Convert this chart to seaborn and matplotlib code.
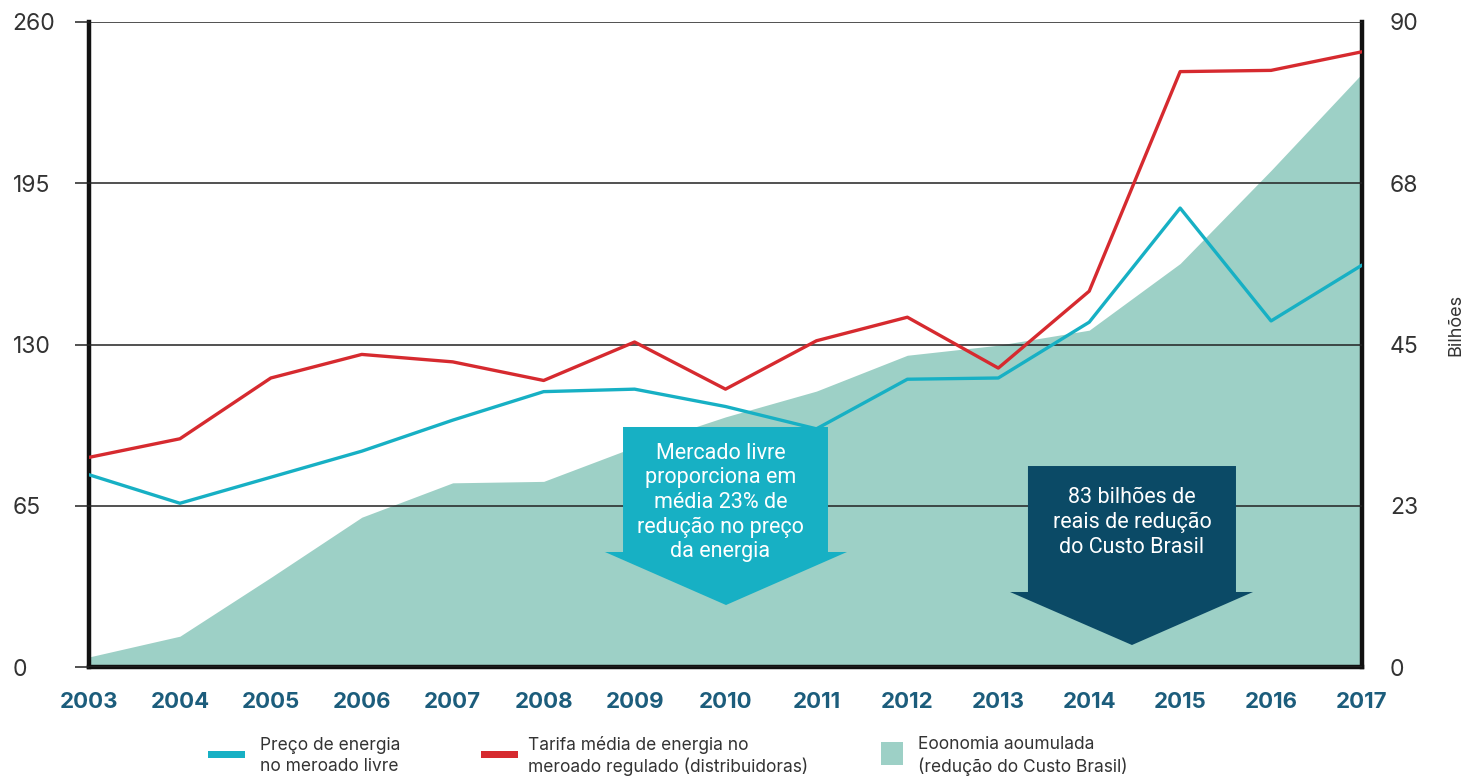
import matplotlib
matplotlib.use("Agg")
import matplotlib.pyplot as plt
import seaborn as sns
import pandas as pd
from matplotlib.patches import Polygon, Rectangle

years = list(range(2003, 2018))
preco_livre = [77.5, 66, 76.5, 87, 99.5, 111, 112, 105, 96, 116, 116.5, 139, 185, 139.5, 162]
tarifa_regulada = [84.5, 92, 116.5, 126, 123, 115.5, 131, 112, 131.5, 141, 120.5, 151.5, 240, 240.5, 248]
economia_acumulada = [1.4, 4.3, 12.5, 20.9, 25.7, 25.9, 30.7, 34.9, 38.5, 43.5, 44.9, 47, 56.3, 69.3, 82.8]

left_ticks = [0, 65, 130, 195, 260]
right_ticks = [0, 22.5, 45, 67.5, 90]
right_labels = ["0", "23", "45", "68", "90"]

label_livre = "Preço de energia\nno meroado livre"
label_reg = "Tarifa média de energia no\nmeroado regulado (distribuidoras)"
label_eco = "Eoonomia aoumulada\n(redução do Custo Brasil)"
arrow1_text = "Mercado livre\nproporciona em\nmédia 23% de\nredução no preço\nda energia"
arrow2_text = "83 bilhões de\nreais de redução\ndo Custo Brasil"

c_blue = "#17b0c4"
c_red = "#d62a2f"
c_area = "#9dd0c6"
c_dark = "#0b4a66"
c_xtick = "#1c5d7c"

sns.set_style("white")
plt.rcParams['font.family'] = ['Inter', 'DejaVu Sans']

df = pd.DataFrame({"year": years, "livre": preco_livre, "reg": tarifa_regulada, "eco": economia_acumulada})

fig = plt.figure(figsize=(14.69, 7.79), dpi=100)
ax = fig.add_axes([89/1469, 1 - 667/779, 1273/1469, 645/779])
ax2 = ax.twinx()
ax.set_zorder(ax2.get_zorder() + 1)
ax.patch.set_visible(False)

# area on right axis
ax2.fill_between(df["year"], 0, df["eco"], color=c_area, linewidth=0)
ax2.set_ylim(0, 90)
ax2.set_yticks(right_ticks)
ax2.set_yticklabels(right_labels)
ax2.tick_params(axis='y', length=0, pad=20, labelsize=16.5, labelcolor="#333333")
for lab in ax2.get_yticklabels():
    lab.set_horizontalalignment('left')
ax2.set_ylabel("Bilhões", fontsize=13, color="#333333")
ax2.yaxis.set_label_coords(1.067, 0.53)

# lines
sns.lineplot(data=df, x="year", y="reg", ax=ax, color=c_red, linewidth=2.4, zorder=4)
sns.lineplot(data=df, x="year", y="livre", ax=ax, color=c_blue, linewidth=2.4, zorder=4)

ax.set_xlim(2003, 2017)
ax.set_ylim(0, 260)
ax.set_yticks(left_ticks)
ax.set_xticks(years)
ax.set_xlabel("")
ax.set_ylabel("")
ax.yaxis.grid(True, color="#222222", linewidth=1.1)
ax.set_axisbelow(False)
for gl in ax.get_ygridlines():
    gl.set_zorder(2)
ax.tick_params(axis='y', length=10, width=1.1, color="#222222", pad=45, labelsize=16.5, labelcolor="#333333")
for lab in ax.get_yticklabels():
    lab.set_horizontalalignment('left')
ax.tick_params(axis='x', length=0, pad=18, labelsize=16, labelcolor=c_xtick)
for lab in ax.get_xticklabels():
    lab.set_fontweight('bold')

for a in (ax, ax2):
    for s in ("left", "right", "bottom"):
        a.spines[s].set_color("#111111")
        a.spines[s].set_linewidth(3.2)
    a.spines["top"].set_visible(False)
ax2.spines["left"].set_visible(False)
ax2.spines["bottom"].set_visible(False)
ax.spines["right"].set_visible(False)

# arrows (axes fraction)
def down_arrow(bl, br, top, hy, hl, hr, tipx, tipy, color):
    pts = [(bl, top), (br, top), (br, hy), (hr, hy), (tipx, tipy), (hl, hy), (bl, hy)]
    ax.add_patch(Polygon(pts, closed=True, transform=ax.transAxes, facecolor=color,
                         edgecolor='none', zorder=6))

down_arrow(0.4195, 0.5805, 0.3721, 0.1783, 0.4053, 0.5954, 0.5004, 0.0961, c_blue)
down_arrow(0.7376, 0.9010, 0.3116, 0.1163, 0.7235, 0.9144, 0.8193, 0.0341, c_dark)

ax.text(0.4960, 0.255, arrow1_text, transform=ax.transAxes, ha='center', va='center',
        color='white', fontsize=15.5, linespacing=1.22, zorder=7,
        family=['Roboto', 'DejaVu Sans'])
ax.text(0.8193, 0.224, arrow2_text, transform=ax.transAxes, ha='center', va='center',
        color='white', fontsize=15.5, linespacing=1.22, zorder=7,
        family=['Roboto', 'DejaVu Sans'])

# legend (manual, figure pixel coords)
W, H = 1469, 779
def fx(px):
    return px / W
def fy(py):
    return 1 - py / H

fig.add_artist(Rectangle((fx(208), fy(758)), 37 / W, 7 / H, transform=fig.transFigure,
                         facecolor=c_blue, edgecolor='none'))
fig.add_artist(Rectangle((fx(481), fy(758)), 37 / W, 7 / H, transform=fig.transFigure,
                         facecolor=c_red, edgecolor='none'))
fig.add_artist(Rectangle((fx(881), fy(765)), 22 / W, 23 / H, transform=fig.transFigure,
                         facecolor=c_area, edgecolor='none'))
for x0, txt in ((260, label_livre), (528, label_reg), (918, label_eco)):
    fig.text(fx(x0), fy(756), txt, ha='left', va='center', fontsize=12.5,
             color="#333333", linespacing=1.25)

fig.savefig("out.png", dpi=100)
